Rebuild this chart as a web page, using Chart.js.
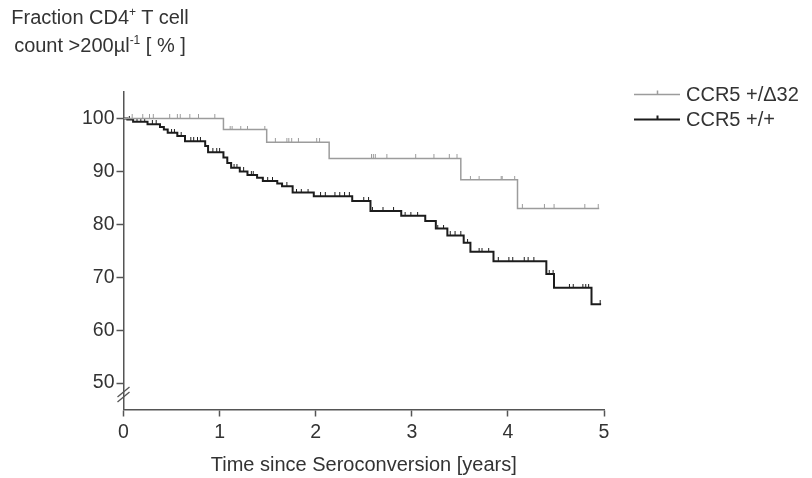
<!DOCTYPE html>
<html>
<head>
<meta charset="utf-8">
<script src="https://cdn.jsdelivr.net/npm/chart.js@4.4.1/dist/chart.umd.min.js"></script>
<style>
  html, body { margin: 0; padding: 0; background: #fff; }
  #wrap { position: relative; width: 812px; height: 478px; }
  #ytitle {
    position: absolute; left: 0; top: 3px; width: 200px;
    text-align: center; color: #333;
    font: 20px "Liberation Sans", Arial, sans-serif; line-height: 28px;
  }
  #ytitle sup { font-size: 12px; line-height: 0; vertical-align: 0; position: relative; top: -8px; }
</style>
</head>
<body>
<div id="wrap">
  <canvas id="km" width="812" height="478"></canvas>
  <div id="ytitle">Fraction CD4<sup>+</sup> T cell<br>count &gt;200µl<sup>-1</sup> [ % ]</div>
</div>
<script>
// tick labels
const xTicks = [0, 1, 2, 3, 4, 5];
const yTicks = [50, 60, 70, 80, 90, 100];

// CCR5 +/delta32 : step times (years) and survival (%)
const deltaTimes = [0, 1.04, 1.49, 2.14, 3.51, 4.10, 4.95];
const deltaValues = [100, 97.9, 95.5, 92.45, 88.4, 83.0, 83.0];
const deltaCensored = [0.09, 0.20, 0.27, 0.31, 0.48, 0.56, 0.59, 0.69, 0.78, 0.95,
  1.11, 1.13, 1.22, 1.29, 1.47, 1.58, 1.70, 1.72, 1.75, 1.82, 2.01, 2.04,
  2.58, 2.60, 2.62, 2.74, 3.04, 3.23, 3.39, 3.47, 3.61, 3.70, 3.93, 3.94, 4.07,
  4.15, 4.38, 4.48, 4.80, 4.94];

// CCR5 +/+
const wildTimes = [0, 0.04, 0.10, 0.25, 0.38, 0.42, 0.46, 0.56, 0.64, 0.85, 0.88,
  1.04, 1.08, 1.12, 1.21, 1.29, 1.39, 1.45, 1.60, 1.65, 1.76, 1.98, 2.38, 2.57,
  2.89, 3.14, 3.25, 3.37, 3.54, 3.61, 3.85, 4.40, 4.48, 4.87, 4.97];
const wildValues = [100, 99.8, 99.4, 98.9, 98.4, 97.9, 97.3, 96.7, 95.7, 94.8, 93.6,
  92.6, 91.6, 90.7, 90.0, 89.3, 88.8, 88.2, 87.7, 87.2, 86.0, 85.3, 84.4, 82.5,
  81.6, 80.6, 79.2, 77.9, 76.5, 74.8, 73.0, 70.6, 68.0, 64.9, 64.9];
const wildCensored = [0.06, 0.14, 0.18, 0.22, 0.30, 0.34, 0.50, 0.53, 0.60, 0.70,
  0.73, 0.77, 0.80, 0.93, 0.97, 1.00, 1.15, 1.18, 1.25, 1.33, 1.35, 1.50, 1.55,
  1.70, 1.80, 1.85, 1.92, 2.05, 2.10, 2.20, 2.25, 2.30, 2.35, 2.50, 2.55, 2.59,
  2.70, 2.81, 2.93, 2.99, 3.06, 3.27, 3.33, 3.40, 3.45, 3.51, 3.58, 3.70, 3.73,
  3.80, 3.90, 4.01, 4.05, 4.17, 4.21, 4.27, 4.43, 4.47, 4.64, 4.68, 4.78, 4.81,
  4.84, 4.96];

const GRAY = "#9c9c9c";
const BLACK = "#1c1c1c";
const AXIS = "#555";
const TEXT = "#333";
const FONT = "'Liberation Sans', Arial, sans-serif";

// value of the step curve at time t
function valueAt(times, values, t) {
  let v = values[0];
  for (let i = 0; i < times.length; i++) {
    if (times[i] <= t) v = values[i];
  }
  return v;
}

// small upward tick used as censor mark
function tickMark(color, h) {
  const c = document.createElement("canvas");
  c.width = 3; c.height = h * 2;
  const g = c.getContext("2d");
  g.fillStyle = color;
  g.fillRect(1, 0, 1, h);
  return c;
}

const legendRows = [
  { label: "CCR5 +/\u039432", color: GRAY, width: 1.5 },
  { label: "CCR5 +/+", color: BLACK, width: 2 }
];

const extras = {
  id: "extras",
  afterDraw(chart) {
    const { ctx, scales: { x, y } } = chart;
    ctx.save();
    // axis break marks
    const bx = x.left, by = y.bottom - 15;
    ctx.strokeStyle = AXIS;
    ctx.lineWidth = 1.3;
    [-2.5, 2.5].forEach(d => {
      ctx.beginPath();
      ctx.moveTo(bx - 6, by + 5 + d);
      ctx.lineTo(bx + 6, by - 5 + d);
      ctx.stroke();
    });
    // legend
    ctx.font = "20px " + FONT;
    ctx.textBaseline = "middle";
    legendRows.forEach((r, i) => {
      const ly = 94.5 + i * 25;
      ctx.strokeStyle = r.color;
      ctx.lineWidth = r.width;
      ctx.beginPath();
      ctx.moveTo(634, ly); ctx.lineTo(680, ly);
      ctx.moveTo(657.5, ly); ctx.lineTo(657.5, ly - 4);
      ctx.stroke();
      ctx.fillStyle = TEXT;
      ctx.fillText(r.label, 686, ly + 1);
    });
    ctx.restore();
  }
};

document.addEventListener("DOMContentLoaded", () => {
  const ctx = document.getElementById("km");
  new Chart(ctx, {
    type: "line",
    data: {
      datasets: [
        {
          label: "CCR5 +/\u039432",
          data: deltaTimes.map((t, i) => ({ x: t, y: deltaValues[i] })),
          stepped: true, borderColor: GRAY, borderWidth: 1.5, pointRadius: 0, fill: false
        },
        {
          label: "CCR5 +/+",
          data: wildTimes.map((t, i) => ({ x: t, y: wildValues[i] })),
          stepped: true, borderColor: BLACK, borderWidth: 2, pointRadius: 0, fill: false
        },
        {
          type: "scatter",
          data: deltaCensored.map(t => ({ x: t, y: valueAt(deltaTimes, deltaValues, t) })),
          pointStyle: tickMark(GRAY, 4), pointRadius: 3, showLine: false
        },
        {
          type: "scatter",
          data: wildCensored.map(t => ({ x: t, y: valueAt(wildTimes, wildValues, t) })),
          pointStyle: tickMark(BLACK, 4), pointRadius: 3, showLine: false
        }
      ]
    },
    options: {
      responsive: false,
      animation: false,
      layout: { padding: { left: 0, top: 92, right: 208, bottom: 0 } },
      plugins: { legend: { display: false }, tooltip: { enabled: false } },
      scales: {
        x: {
          type: "linear", min: 0, max: 5,
          afterBuildTicks: s => { s.ticks = xTicks.map(v => ({ value: v })); },
          afterFit: s => { s.height = 68.5; },
          grid: { drawOnChartArea: false, drawTicks: true, tickLength: 7, tickWidth: 1.5, tickColor: AXIS },
          border: { display: true, color: AXIS, width: 1.5 },
          ticks: { color: TEXT, font: { family: FONT, size: 19.5 }, padding: 4 },
          title: {
            display: true, text: "Time since Seroconversion [years]",
            color: TEXT, font: { family: FONT, size: 20 }, padding: { top: 0, bottom: 1 }
          }
        },
        y: {
          type: "linear", min: 45, max: 105,
          afterBuildTicks: s => { s.ticks = yTicks.map(v => ({ value: v })); },
          afterFit: s => { s.width = 123.5; },
          grid: { drawOnChartArea: false, drawTicks: true, tickLength: 7, tickWidth: 1.5, tickColor: AXIS },
          border: { display: true, color: AXIS, width: 1.5 },
          ticks: { color: TEXT, font: { family: FONT, size: 19.5 }, padding: 2 }
        }
      }
    },
    plugins: [extras]
  });
});
</script>
</body>
</html>
